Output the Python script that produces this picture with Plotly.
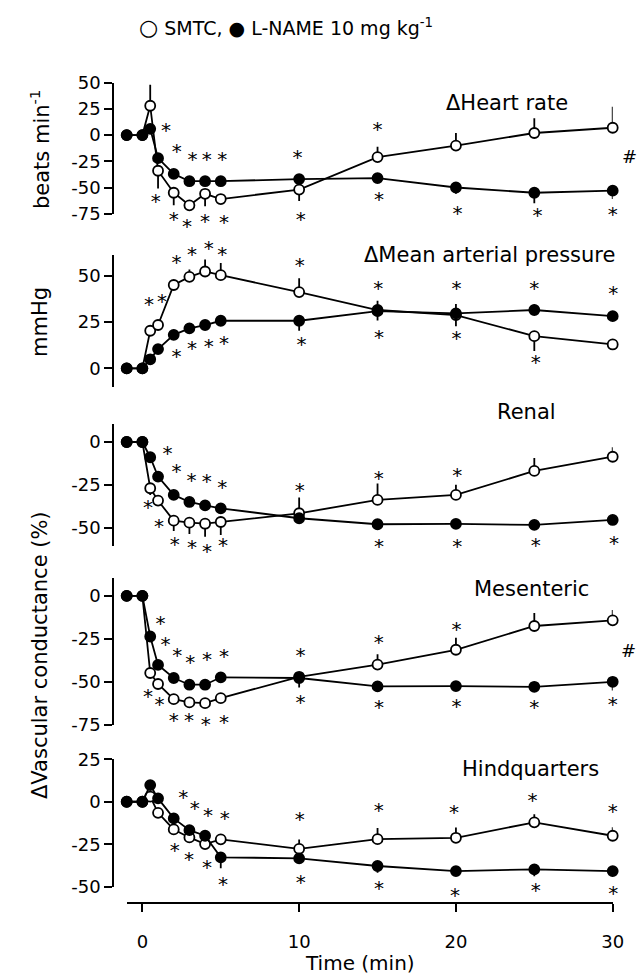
import plotly.graph_objects as go

W, H = 637, 977
FONT = "DejaVu Sans"

# ---------------- data ----------------
time = [-1, 0, 0.5, 1, 2, 3, 4, 5, 10, 15, 20, 25, 30]

# Heart rate (beats min-1)
hr_smtc = [0, 0, 28, -34, -55, -67, -56, -61, -52, -21, -10, 2, 7]
hr_smtc_up = [0, 0, 20, 0, 0, 0, 0, 0, 0, 10, 12, 14, 20]
hr_smtc_dn = [0, 0, 0, 17, 12, 0, 12, 0, 11, 0, 0, 0, 0]
hr_lname = [0, 0, 6, -22, -37, -44, -44, -44, -42, -41, -50, -55, -53]
hr_lname_up = [0, 0, 0, 0, 0, 0, 0, 0, 0, 0, 0, 0, 0]
hr_lname_dn = [0, 0, 0, 0, 0, 0, 0, 0, 3, 3, 6, 10, 8]
hr_star_x = [1.5, 2.2, 3.2, 4.1, 5.1, 9.9, 0.85, 2.0, 2.85, 4.0, 5.2, 10.1, 15.0, 15.1, 20.1, 25.2, 30.0]
hr_star_y = [5, -15, -23, -23, -23, -21, -63, -80, -87, -82, -83, -80, 5.5, -61, -74, -76.5, -75]

# Mean arterial pressure (mmHg)
map_smtc = [0, 0, 20.3, 23.4, 45, 49.4, 52.3, 50.3, 41.2, 31.5, 28.8, 17.4, 12.9]
map_smtc_up = [0, 0, 0, 0, 2, 4, 6.5, 6.6, 7.4, 5, 0, 0, 0]
map_smtc_dn = [0, 0, 0, 0, 0, 0, 0, 0, 0, 0, 6, 8, 0]
map_lname = [0, 0, 4.9, 10.4, 18.1, 21.6, 23.4, 25.7, 25.7, 30.9, 29.7, 31.5, 28.2]
map_lname_up = [0, 0, 0, 0, 0, 0, 0, 0, 0, 0, 5, 3, 0]
map_lname_dn = [0, 0, 0, 0, 0, 0, 0, 0, 5.4, 5, 0, 0, 2]
map_star_x = [0.42, 1.25, 2.17, 3.17, 4.23, 5.09, 10.04, 2.17, 3.17, 4.23, 5.2, 10.15,
              15.04, 15.1, 20.04, 20.04, 25.0, 25.1, 30.04]
map_star_y = [34.7, 36.5, 57.2, 61.7, 64.8, 61.7, 55.7, 6.6, 10.8, 12.2, 13.5, 13.1,
              43.2, 17.1, 43.2, 16.2, 43.2, 3.6, 40.8]

# Renal vascular conductance (%)
ren_smtc = [0, 0, -27, -34.2, -45.9, -47.1, -47.7, -46.7, -41.6, -33.8, -30.9, -16.9, -8.6]
ren_smtc_up = [0, 0, 0, 0, 0, 0, 0, 0, 9.2, 9.6, 6, 7.5, 5.5]
ren_smtc_dn = [0, 0, 4, 2, 6, 6.6, 7.6, 7.6, 0, 0, 0, 0, 0]
ren_lname = [0, 0, -8.9, -20.2, -30.9, -35, -37, -38.7, -44.5, -48, -47.8, -48.4, -45.5]
ren_lname_up = [0, 0, 0, 0, 0, 0, 0, 0, 0, 0, 0, 0, 0]
ren_lname_dn = [0, 0, 0, 0, 0, 0, 0, 0, 3, 1.5, 1.5, 1.5, 1.5]
ren_star_x = [1.6, 2.17, 3.13, 4.1, 5.1, 10.04, 0.36, 1.06, 2.06, 3.17, 4.12, 5.15,
              15.08, 20.08, 15.1, 20.08, 25.1, 30.08]
ren_star_y = [-6.6, -16.7, -22.2, -22.6, -26.4, -28, -38.1, -49, -59.5, -61, -63.4, -60.1,
              -21.2, -19.3, -60.7, -60.7, -60.1, -59.1]

# Mesenteric vascular conductance (%)
mes_smtc = [0, 0, -44.8, -51.2, -60, -61.9, -62.3, -59.4, -47, -39.9, -31.3, -17.5, -14.2]
mes_smtc_up = [0, 0, 0, 0, 0, 0, 0, 0, 0, 6, 7, 7.6, 6]
mes_smtc_dn = [0, 0, 0, 0, 0, 0, 0, 0, 0, 0, 0, 0, 0]
mes_lname = [0, 0, -23.6, -40.1, -47.7, -51.6, -51.6, -47.3, -47.7, -52.6, -52.4, -52.8, -49.9]
mes_lname_up = [0, 0, 0, 0, 0, 0, 0, 0, 0, 0, 0, 0, 0]
mes_lname_dn = [0, 0, 0, 0, 0, 0, 0, 0, 5.5, 2, 2, 2, 5]
mes_star_x = [1.15, 1.47, 2.23, 3.06, 4.12, 5.2, 10.08, 0.36, 1.1, 2.0, 2.98, 4.04, 5.2, 10.08,
              15.08, 20.04, 15.1, 20.04, 25.0, 30.0]
mes_star_y = [-15.8, -27.8, -34.1, -38.6, -36.6, -35.2, -34.1, -58, -62.9, -72, -72, -74.2, -73.2, -61.4,
              -26.9, -19.1, -64.8, -63.9, -64.8, -62.9]

# Hindquarters vascular conductance (%)
hq_smtc = [0, 0, 3, -6.5, -16.3, -21, -24.9, -22.1, -27.7, -22, -21.2, -12.1, -20]
hq_smtc_up = [0, 0, 0, 0, 0, 0, 0, 0, 5.5, 6.5, 6, 4.8, 5]
hq_smtc_dn = [0, 0, 0, 0, 0, 0, 0, 0, 0, 0, 0, 0, 0]
hq_lname = [0, 0, 9.8, 2, -9.8, -16.7, -20, -32.7, -33.3, -37.8, -40.8, -39.8, -40.8]
hq_lname_up = [0, 0, 0, 0, 0, 0, 0, 0, 0, 0, 0, 0, 0]
hq_lname_dn = [0, 0, 0, 0, 0, 0, 0, 6.5, 3.4, 4, 2, 4, 3.3]
hq_star_x = [2.6, 3.34, 4.19, 5.25, 10.04, 2.06, 2.98, 4.12, 5.15, 10.1,
             15.08, 19.87, 24.89, 30.0, 15.1, 19.94, 25.1, 30.04]
hq_star_y = [2.9, -3.5, -7.8, -9.4, -10.4, -28.4, -33.9, -38.3, -48.4, -47.1,
             -4.9, -5.9, 1, -5.5, -51, -54.9, -52, -53.9]

panel_titles = ["\u0394Heart rate", "\u0394Mean arterial pressure", "Renal", "Mesenteric", "Hindquarters"]
x_tickvals = [0, 10, 20, 30]
x_ticktext = ["0", "10", "20", "30"]
y_tickvals = [[50, 25, 0, -25, -50, -75], [50, 25, 0], [0, -25, -50], [0, -25, -50, -75], [25, 0, -25, -50]]
y_ticktext = [["50", "25", "0", "-25", "-50", "-75"], ["50", "25", "0"], ["0", "-25", "-50"],
              ["0", "-25", "-50", "-75"], ["25", "0", "-25", "-50"]]

# ---------------- layout geometry (pixels) ----------------
def px_x(px):
    return px / W

def px_y(py):
    return 1 - py / H

X_PX = (126.7, 612.7)
X_RANGE = (-1, 30)
panel_dom_px = [(82.7, 213.7), (255, 386.7), (424, 546), (578.3, 725), (759.3, 886.7)]
panel_range = [(-75, 50), (-9.9, 61.2), (-60.7, 10.5), (-75, 10.2), (-50, 25)]
title_pos_px = [(507, 102.7), (489, 255), (526.5, 411.7), (531, 589.3), (530.7, 769.3)]
STAR_RAISE_PX = -2.0    # '*' glyph sits above the text anchor
PAD_Y, PAD_X = 40, 20   # extra room for the hidden asterisk axes

x_per_px = (X_RANGE[1] - X_RANGE[0]) / (X_PX[1] - X_PX[0])

panels = [
    (hr_smtc, hr_smtc_up, hr_smtc_dn, hr_lname, hr_lname_up, hr_lname_dn, hr_star_x, hr_star_y),
    (map_smtc, map_smtc_up, map_smtc_dn, map_lname, map_lname_up, map_lname_dn, map_star_x, map_star_y),
    (ren_smtc, ren_smtc_up, ren_smtc_dn, ren_lname, ren_lname_up, ren_lname_dn, ren_star_x, ren_star_y),
    (mes_smtc, mes_smtc_up, mes_smtc_dn, mes_lname, mes_lname_up, mes_lname_dn, mes_star_x, mes_star_y),
    (hq_smtc, hq_smtc_up, hq_smtc_dn, hq_lname, hq_lname_up, hq_lname_dn, hq_star_x, hq_star_y),
]

fig = go.Figure()
LW = 1.8
for i, (s, su, sd, l, lu, ld, stx, sty) in enumerate(panels):
    yref = "y" if i == 0 else f"y{i+1}"
    for vals, up, dn, fill in [(s, su, sd, "white"), (l, lu, ld, "black")]:
        fig.add_trace(go.Scatter(
            x=time, y=vals, xaxis="x", yaxis=yref, mode="lines+markers",
            line=dict(color="black", width=LW),
            marker=dict(size=10, color=fill, line=dict(color="black", width=1.8)),
            error_y=dict(type="data", symmetric=False, array=up, arrayminus=dn,
                         color="black", thickness=1.8, width=0),
            cliponaxis=False, showlegend=False, hoverinfo="skip"))
    lo, hi = panel_range[i]
    top, bot = panel_dom_px[i]
    per_px = (hi - lo) / (bot - top)
    fig.add_trace(go.Scatter(
        x=stx, y=[v + STAR_RAISE_PX * per_px for v in sty], xaxis="x2", yaxis=f"y{i+6}",
        mode="text", text=["*"] * len(stx), textposition="middle center",
        textfont=dict(family=FONT, size=20, color="black"),
        cliponaxis=False, showlegend=False, hoverinfo="skip"))

axis_common = dict(showline=True, linecolor="black", linewidth=2, ticks="outside",
                   ticklen=8, tickwidth=2, tickcolor="black", showgrid=False, zeroline=False,
                   automargin=False, tickfont=dict(family=FONT, size=18, color="black"))

layout = dict(
    width=W, height=H, autosize=False, margin=dict(l=0, r=0, t=0, b=0, pad=0),
    paper_bgcolor="white", plot_bgcolor="rgba(0,0,0,0)", showlegend=False,
    xaxis=dict(domain=[px_x(X_PX[0]), px_x(X_PX[1])], range=list(X_RANGE), anchor="free",
               position=px_y(903.3), tickvals=x_tickvals, ticktext=x_ticktext,
               ticklabelstandoff=14, **axis_common),
    xaxis2=dict(domain=[px_x(X_PX[0] - PAD_X), px_x(X_PX[1] + PAD_X)],
                range=[X_RANGE[0] - PAD_X * x_per_px, X_RANGE[1] + PAD_X * x_per_px],
                visible=False, anchor="free", position=0),
)
for i in range(5):
    top, bot = panel_dom_px[i]
    lo, hi = panel_range[i]
    per_px = (hi - lo) / (bot - top)
    key = "yaxis" if i == 0 else f"yaxis{i+1}"
    layout[key] = dict(domain=[px_y(bot), px_y(top)], range=[lo, hi],
                       anchor="free", position=px_x(113.3),
                       tickvals=y_tickvals[i], ticktext=y_ticktext[i], **axis_common)
    layout[f"yaxis{i+6}"] = dict(domain=[px_y(bot + PAD_Y), px_y(top - PAD_Y)],
                                 range=[lo - PAD_Y * per_px, hi + PAD_Y * per_px],
                                 visible=False, anchor="free", position=0)
fig.update_layout(**layout)

ann = []
for t, (tx, ty) in zip(panel_titles, title_pos_px):
    ann.append(dict(text=t, x=px_x(tx), y=px_y(ty), xref="paper", yref="paper",
                    xanchor="center", yanchor="middle", showarrow=False,
                    font=dict(family=FONT, size=21, color="black")))
ann.append(dict(text="beats min<sup>-1</sup>", x=px_x(40), y=px_y(150), xref="paper", yref="paper",
                textangle=-90, showarrow=False, xanchor="center", yanchor="middle",
                font=dict(family=FONT, size=21, color="black")))
ann.append(dict(text="mmHg", x=px_x(40), y=px_y(322), xref="paper", yref="paper",
                textangle=-90, showarrow=False, xanchor="center", yanchor="middle",
                font=dict(family=FONT, size=21, color="black")))
ann.append(dict(text="\u0394Vascular conductance (%)", x=px_x(40), y=px_y(655), xref="paper", yref="paper",
                textangle=-90, showarrow=False, xanchor="center", yanchor="middle",
                font=dict(family=FONT, size=21, color="black")))
ann.append(dict(text="Time (min)", x=px_x(360), y=px_y(963), xref="paper", yref="paper",
                showarrow=False, xanchor="center", yanchor="middle",
                font=dict(family=FONT, size=20, color="black")))
ann.append(dict(text="<span style='font-size:22px'><b>\u25CB</b></span> SMTC, \u25CF L-NAME 10 mg kg<sup>-1</sup>",
                x=px_x(286), y=px_y(28),
                xref="paper", yref="paper", showarrow=False, xanchor="center", yanchor="middle",
                font=dict(family=FONT, size=19, color="black")))
for hx, hy in [(629.5, 156.7), (628.5, 650)]:
    ann.append(dict(text="#", x=px_x(hx), y=px_y(hy), xref="paper", yref="paper",
                    showarrow=False, xanchor="center", yanchor="middle",
                    font=dict(family=FONT, size=18, color="black")))
fig.update_layout(annotations=ann)

fig.write_html("out.html",
               post_script="document.body.style.margin='0';document.body.style.overflow='hidden';")
